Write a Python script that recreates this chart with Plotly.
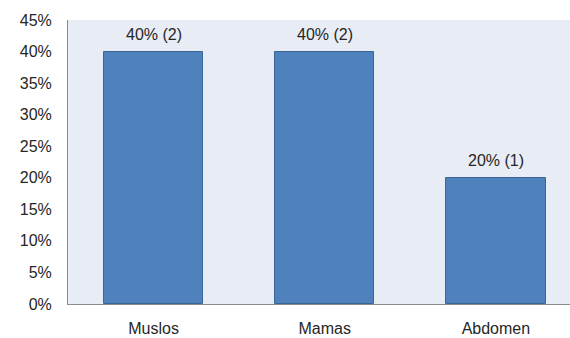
import plotly.graph_objects as go

categories = ["Muslos", "Mamas", "Abdomen"]
percent = [40, 40, 20]
counts = [2, 2, 1]
y_ticks = [0, 5, 10, 15, 20, 25, 30, 35, 40, 45]
y_tick_labels = [f"{v}%" for v in y_ticks]

labels = [f"{p}% ({c})" for p, c in zip(percent, counts)]
xs = list(range(len(categories)))

fig = go.Figure(go.Bar(
    x=xs,
    y=percent,
    width=0.58,
    marker=dict(color="#4F81BD", line=dict(color="#3A6597", width=1)),
    hoverinfo="skip",
))

for x, y, t in zip(xs, percent, labels):
    fig.add_annotation(x=x, y=y, text=t, showarrow=False, yanchor="bottom",
                       yshift=7, font=dict(family="Liberation Sans, Arial", size=16, color="#262626"))

fig.update_layout(
    width=570, height=338,
    margin=dict(l=68, r=0, t=20, b=34),
    paper_bgcolor="white",
    plot_bgcolor="#E8ECF5",
    showlegend=False,
    bargap=0,
    font=dict(family="Liberation Sans, Arial", size=16, color="#262626"),
    xaxis=dict(
        range=[-0.5, 2.433],
        tickmode="array",
        tickvals=xs,
        ticktext=categories,
        showgrid=False,
        zeroline=False,
        showline=True, linecolor="#8C8C8C", linewidth=1,
        ticks="outside", ticklen=10, tickcolor="rgba(0,0,0,0)",
        tickfont=dict(size=16),
        automargin=False,
    ),
    yaxis=dict(
        range=[0, 45],
        tickmode="array",
        tickvals=y_ticks,
        ticktext=y_tick_labels,
        showgrid=False,
        zeroline=False,
        showline=True, linecolor="#8C8C8C", linewidth=1,
        ticks="outside", ticklen=12, tickcolor="rgba(0,0,0,0)",
        tickfont=dict(size=16),
        automargin=False,
    ),
)

fig.write_html("out.html")
